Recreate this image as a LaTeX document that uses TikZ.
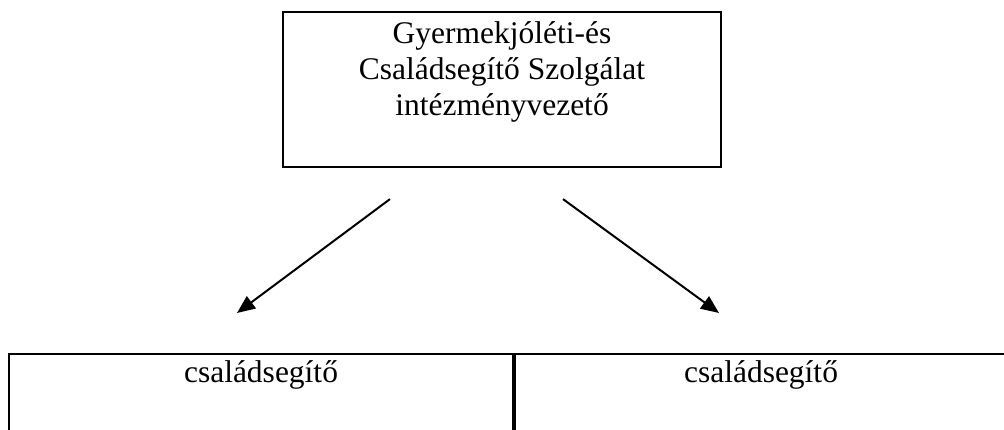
\documentclass[tikz,border=0pt]{standalone}
\usepackage{fontspec}
\setmainfont{Liberation Serif}
\usetikzlibrary{arrows.meta, positioning}

\begin{document}
\begin{tikzpicture}[x=1pt, y=1pt, >={Triangle[length=18pt,width=15pt]}, font=\fontsize{31.5}{36}\selectfont]
  \tikzset{
    chief/.style={
      draw=black,
      line width=2.2pt,
      minimum width=438pt,
      minimum height=155pt},
    unit/.style={
      draw=black,
      line width=2pt,
      minimum height=160pt},
    blank/.style={
      align=center,
      inner sep=0pt},
    link/.style={
      ->,
      line width=2pt}}

  \clip (0,0) rectangle (1004,430);

  \node[chief] (boss) at (502,340.5) {};
  \node[blank, anchor=north] (bosstext) at ([yshift=-11pt]boss.north) {Gyermekjóléti-és\\Családsegítő Szolgálat\\intézményvezető};

  \node[unit, minimum width=504pt, anchor=north west] (help1) at (8,77.3) {};
  \node[unit, minimum width=492pt, anchor=north west] (help2) at (help1.north east) {};
  \node[blank, anchor=base] (help1text) at ([yshift=-30pt]help1.north) {családsegítő};
  \node[blank, anchor=base] (help2text) at ([yshift=-30pt]help2.north) {családsegítő};

  \coordinate (from1) at ([xshift=-112pt, yshift=-31pt]boss.south);
  \coordinate (from2) at ([xshift=61pt, yshift=-31pt]boss.south);
  \coordinate (to1) at ([xshift=-24pt, yshift=39.7pt]help1.north);
  \coordinate (to2) at ([xshift=-42pt, yshift=39.7pt]help2.north);

  \draw[link] (from1) -- (to1);
  \draw[link] (from2) -- (to2);

\end{tikzpicture}
\end{document}
